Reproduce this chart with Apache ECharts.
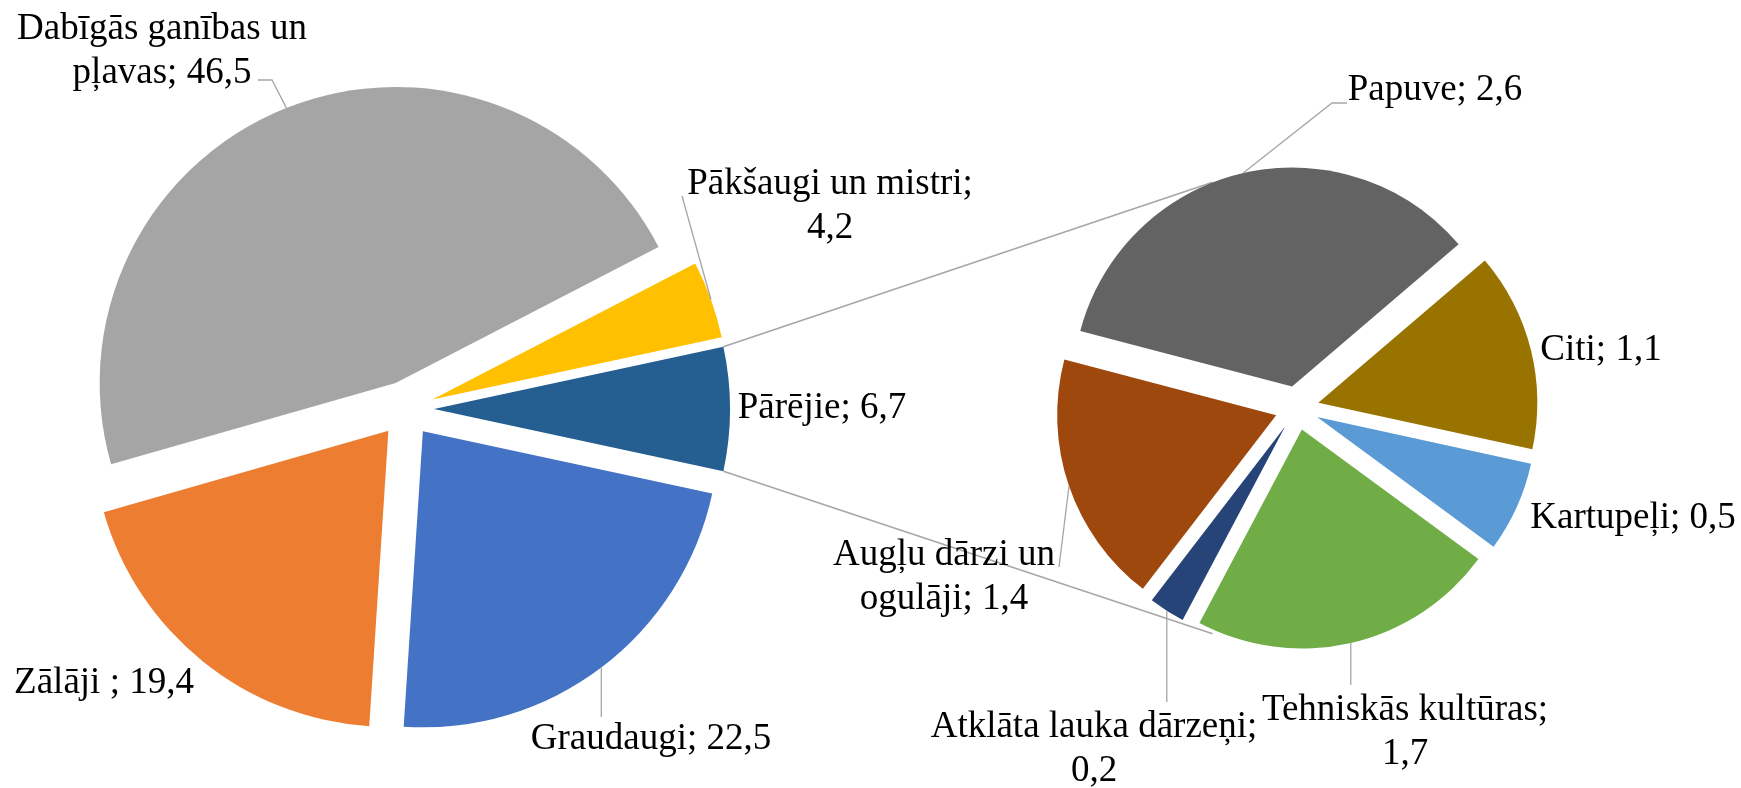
<!DOCTYPE html>
<html>
<head>
<meta charset="utf-8">
<script src="https://cdn.jsdelivr.net/npm/echarts@6/dist/echarts.min.js"></script>
<style>
  html, body { margin: 0; padding: 0; background: #fff; }
  #chart { width: 1741px; height: 788px; }
</style>
</head>
<body>
<div id="chart"></div>
<script>
// data
var mainNames = ['Pārējie', 'Graudaugi', 'Zālāji ', 'Dabīgās ganības un\npļavas', 'Pākšaugi un mistri'];
var mainValues = [6.7, 22.5, 19.4, 46.5, 4.2];
var mainColors = ['#255E91', '#4472C4', '#ED7D31', '#A5A5A5', '#FFC000'];

var subNames = ['Papuve', 'Citi', 'Kartupeļi', 'Tehniskās kultūras', 'Atklāta lauka dārzeņi', 'Augļu dārzi un\nogulāji'];
var subValues = [2.6, 1.1, 0.5, 1.7, 0.2, 1.4];
var subColors = ['#636363', '#997300', '#5B9BD5', '#70AD47', '#264478', '#9E480E'];

// layout
var C1 = [406, 409], R1 = 296, OFF1 = 28;
var C2 = [1297, 408], R2 = 219, OFF2 = 22;
var START2 = 165.3;
var mainStart = 180 * mainValues[0] / mainValues.reduce(function (a, b) { return a + b; }, 0);

// label centres, and where leader lines meet the text (null = no leader)
var mainLabelPos = [[822, 408], [651, 739], [104, 683], [162, 51], [830, 206]];
var mainLeader = [null, [null, 717], null, [[272, 80], [258, 80]], [[682, 196]]];
var mainBreak = [false, false, false, false, true];
var subLabelPos = [[1435, 90], [1601, 350], [1633, 518], [1405, 732], [1094, 749], [944, 577]];
var subLeader = [[[1332, 103], [1347, 103]], null, null, [null, 685], [null, 702], [[1059, 567]]];
var subBreak = [false, false, false, true, true, false];

var lineColor = '#A6A6A6';

function fmt(v) { return v.toFixed(1).replace('.', ','); }

// screen-space angle (deg, clockwise from 3 o'clock) at the middle of slice i
function midAngle(values, start, i) {
  var total = values.reduce(function (a, b) { return a + b; }, 0);
  var cum = 0;
  for (var k = 0; k < i; k++) cum += values[k];
  return -start + (cum + values[i] / 2) / total * 360;
}

function arcMid(c, r, off, values, start, i) {
  var a = midAngle(values, start, i) * Math.PI / 180;
  return [c[0] + (off + r) * Math.cos(a), c[1] + (off + r) * Math.sin(a)];
}

function leaderPoints(c, r, off, values, start, i, spec) {
  var p0 = arcMid(c, r, off, values, start, i);
  if (spec[0] === null) return [p0, [p0[0], spec[1]]];
  return [p0].concat(spec);
}

function pieSeries(names, values, colors, c, r, off, start) {
  return {
    type: 'pie',
    center: c,
    radius: r,
    startAngle: start,
    clockwise: true,
    selectedMode: 'multiple',
    selectedOffset: off,
    emphasis: { disabled: true },
    select: { itemStyle: { borderWidth: 0 } },
    label: { show: false },
    labelLine: { show: false },
    data: names.map(function (n, i) {
      return { name: n, value: values[i], selected: true, itemStyle: { color: colors[i] } };
    })
  };
}

function labelGraphics(names, values, c, r, off, start, pos, leaders, breaks) {
  var out = [];
  names.forEach(function (n, i) {
    if (leaders[i]) {
      out.push({
        type: 'polyline', silent: true, z: 5,
        shape: { points: leaderPoints(c, r, off, values, start, i, leaders[i]) },
        style: { stroke: lineColor, lineWidth: 1.3, fill: null }
      });
    }
    out.push({
      type: 'text', silent: true, z: 6,
      x: pos[i][0], y: pos[i][1],
      style: {
        text: n + ';' + (breaks[i] ? '\n' : ' ') + fmt(values[i]),
        fontFamily: 'Liberation Serif', fontSize: 37, fill: '#000',
        lineHeight: 44, align: 'center', verticalAlign: 'middle'
      }
    });
  });
  return out;
}

// series lines between the "Pārējie" slice and the second pie
var half = mainStart * Math.PI / 180;
var pA = [C1[0] + OFF1, C1[1]];
var topStart = [pA[0] + R1 * Math.cos(-half), pA[1] + R1 * Math.sin(-half)];
var botStart = [pA[0] + R1 * Math.cos(half), pA[1] + R1 * Math.sin(half)];
var endAng = 69.5 * Math.PI / 180;
var topEnd = [C2[0] - (R2 + OFF2) * Math.cos(endAng), C2[1] - (R2 + OFF2) * Math.sin(endAng)];
var botEnd = [C2[0] - (R2 + OFF2) * Math.cos(endAng), C2[1] + (R2 + OFF2) * Math.sin(endAng)];

var graphics = [
  { type: 'line', z: 0, silent: true, shape: { x1: topStart[0], y1: topStart[1], x2: topEnd[0], y2: topEnd[1] }, style: { stroke: lineColor, lineWidth: 1.5 } },
  { type: 'line', z: 0, silent: true, shape: { x1: botStart[0], y1: botStart[1], x2: botEnd[0], y2: botEnd[1] }, style: { stroke: lineColor, lineWidth: 1.5 } }
].concat(
  labelGraphics(mainNames, mainValues, C1, R1, OFF1, mainStart, mainLabelPos, mainLeader, mainBreak),
  labelGraphics(subNames, subValues, C2, R2, OFF2, START2, subLabelPos, subLeader, subBreak)
);

var myChart = echarts.init(document.getElementById('chart'));
var option = {
  animation: false,
  backgroundColor: '#fff',
  graphic: graphics,
  series: [
    pieSeries(mainNames, mainValues, mainColors, C1, R1, OFF1, mainStart),
    pieSeries(subNames, subValues, subColors, C2, R2, OFF2, START2)
  ]
};
myChart.setOption(option);
</script>
</body>
</html>
